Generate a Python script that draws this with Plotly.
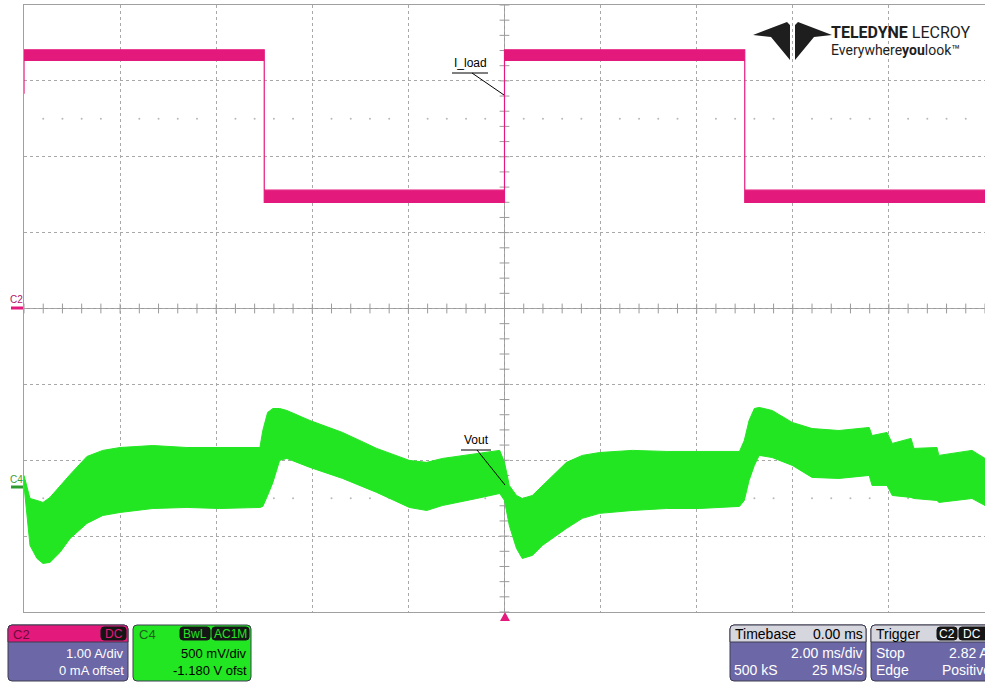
import numpy as np
import plotly.graph_objects as go

# ---------------- data (read from the screen capture) ----------------
# time in ms (2 ms/div, trigger at 0)
iload_t = [-10.0, -10.0, -5.0, -5.0, 0.0, 0.0, 5.0, 5.0, 10.0]
iload_upper = [2.85, 3.41, 3.41, 1.56, 1.56, 3.41, 3.41, 1.56, 1.56]   # A
iload_lower = [2.83, 3.27, 3.27, 1.40, 1.40, 3.27, 3.27, 1.40, 1.40]   # A

vout_t = [-10.0, -9.875, -9.73, -9.605, -9.46, -9.25, -9.04, -8.69, -8.36, -8.0,
          -7.32, -6.61, -5.93, -5.09, -5.03, -4.93, -4.82, -4.68, -4.53, -4.05,
          -3.37, -2.66, -1.98, -1.62, -1.29, -0.58, -0.10, 0.0, 0.10, 0.25,
          0.37, 0.58, 0.79, 1.29, 1.62, 1.98, 2.66, 3.37, 4.05, 4.89,
          4.99, 5.09, 5.20, 5.30, 5.57, 5.99, 6.40, 6.96, 7.59, 7.65,
          7.96, 8.07, 8.46, 8.52, 9.00, 9.04, 9.73, 10.0]
vout_upper = [0.080, -0.072, -0.085, -0.098, -0.065, 0.014, 0.086, 0.205, 0.245, 0.264,
              0.277, 0.264, 0.264, 0.264, 0.376, 0.495, 0.521, 0.521, 0.508, 0.442,
              0.363, 0.258, 0.179, 0.166, 0.192, 0.225, 0.245, 0.166, 0.014, -0.052,
              -0.072, -0.052, 0.014, 0.166, 0.212, 0.231, 0.245, 0.238, 0.238, 0.238,
              0.310, 0.442, 0.521, 0.528, 0.508, 0.429, 0.389, 0.376, 0.396, 0.343,
              0.363, 0.291, 0.324, 0.258, 0.264, 0.212, 0.245, 0.192]   # V (AC)
vout_lower = [0.014, -0.381, -0.467, -0.500, -0.493, -0.427, -0.335, -0.236, -0.184, -0.164,
              -0.138, -0.131, -0.138, -0.131, -0.124, -0.052, 0.034, 0.179, 0.192, 0.133,
              0.060, -0.032, -0.131, -0.151, -0.118, -0.072, -0.039, -0.085, -0.250, -0.401,
              -0.467, -0.447, -0.381, -0.269, -0.203, -0.170, -0.151, -0.138, -0.138, -0.124,
              -0.085, 0.047, 0.146, 0.212, 0.198, 0.146, 0.067, 0.060, 0.080, 0.014,
              0.014, -0.052, -0.065, -0.072, -0.085, -0.098, -0.072, -0.118]   # V (AC)

# channel settings
C2_VDIV = 1.0       # A/div, 0 offset
C4_VDIV = 0.5       # V/div
C4_OFFSET = -1.180  # V

PINK = "#e4197c"
GREEN = "#22e622"
PURPLE = "#6c67a6"
HEADER_GRAY = "#d6d6de"
FONT = "Arial, Liberation Sans, sans-serif"

# ---------------- geometry helpers (pixel -> paper) ----------------
W_FIG, H_FIG = 985, 685
L, R, T, B = 24, 985, 5, 612
PW, PH = R - L, B - T


def px(x):
    return (x - L) / PW


def py(y):
    return (B - y) / PH


def rrect_path(x0, y0, x1, y1, r=4, top=True, bottom=True):
    rx, ry = r / PW, r / PH
    X0, X1, Y0, Y1 = px(x0), px(x1), py(y0), py(y1)  # Y0 is top (larger)
    p = []
    if top:
        p.append(f"M{X0},{Y0 - ry}")
        p.append(f"Q{X0},{Y0} {X0 + rx},{Y0}")
        p.append(f"L{X1 - rx},{Y0}")
        p.append(f"Q{X1},{Y0} {X1},{Y0 - ry}")
    else:
        p.append(f"M{X0},{Y0}")
        p.append(f"L{X1},{Y0}")
    if bottom:
        p.append(f"L{X1},{Y1 + ry}")
        p.append(f"Q{X1},{Y1} {X1 - rx},{Y1}")
        p.append(f"L{X0 + rx},{Y1}")
        p.append(f"Q{X0},{Y1} {X0},{Y1 + ry}")
    else:
        p.append(f"L{X1},{Y1}")
        p.append(f"L{X0},{Y1}")
    p.append("Z")
    return " ".join(p)


shapes = []
annotations = []


def add_rrect(x0, y0, x1, y1, fill, line="#3c3c50", r=4, top=True, bottom=True, lw=1):
    shapes.append(dict(type="path", xref="paper", yref="paper",
                       path=rrect_path(x0, y0, x1, y1, r, top, bottom),
                       fillcolor=fill, line=dict(color=line, width=lw), layer="above"))


def add_text(text, x, y, xanchor="left", size=13, color="white", family=FONT, yanchor="middle"):
    annotations.append(dict(text=text, x=px(x), y=py(y), xref="paper", yref="paper",
                            xanchor=xanchor, yanchor=yanchor, showarrow=False,
                            font=dict(size=size, color=color, family=family)))


def add_line(x0, y0, x1, y1, color="black", width=1, dash=None):
    ln = dict(color=color, width=width)
    if dash:
        ln["dash"] = dash
    shapes.append(dict(type="line", xref="paper", yref="paper",
                       x0=px(x0), y0=py(y0), x1=px(x1), y1=py(y1), line=ln, layer="above"))


fig = go.Figure()

# ---------------- graticule decorations ----------------
minor_x = [v for v in np.arange(-10, 10.001, 0.4) if abs(v / 2 - round(v / 2)) > 1e-6]
for lvl in (2.5, -2.5):
    fig.add_trace(go.Scatter(x=minor_x, y=[lvl] * len(minor_x), mode="markers",
                             marker=dict(size=2, color="#b8b8b8"), hoverinfo="skip"))

tick_x = list(np.arange(-10, 10.001, 0.4))
fig.add_trace(go.Scatter(x=tick_x, y=[0] * len(tick_x), mode="markers",
                         marker=dict(symbol="line-ns", size=7, line=dict(width=1, color="#9a9a9a")),
                         hoverinfo="skip"))
tick_y = list(np.arange(-4, 4.001, 0.2))
fig.add_trace(go.Scatter(x=[0] * len(tick_y), y=tick_y, mode="markers",
                         marker=dict(symbol="line-ew", size=7, line=dict(width=1, color="#9a9a9a")),
                         hoverinfo="skip"))

# ---------------- traces ----------------
fig.add_trace(go.Scatter(
    x=iload_t + iload_t[::-1], y=iload_upper + iload_lower[::-1],
    fill="toself", fillcolor=PINK, mode="lines",
    line=dict(color=PINK, width=1.2), yaxis="y", hoverinfo="skip"))

fig.add_trace(go.Scatter(
    x=vout_t + vout_t[::-1], y=vout_upper + vout_lower[::-1],
    fill="toself", fillcolor=GREEN, mode="lines",
    line=dict(color=GREEN, width=1), yaxis="y2", hoverinfo="skip"))

# center cross lines
shapes.append(dict(type="line", xref="x", yref="y", x0=0, x1=0, y0=-4, y1=4,
                   line=dict(color="#9a9a9a", width=1), layer="below"))
shapes.append(dict(type="line", xref="x", yref="y", x0=-10, x1=10, y0=0, y1=0,
                   line=dict(color="#9a9a9a", width=1), layer="below"))

# ---------------- trace labels ----------------
add_text("I_load", 470, 72, "center", 12, "black", yanchor="bottom")
add_line(452, 73, 488, 73, "black", 1)
add_line(472, 73, 504, 95, "black", 1)

add_text("Vout", 476, 449, "center", 12, "black", yanchor="bottom")
add_line(461, 450, 491, 450, "black", 1)
add_line(477, 450, 505, 485, "black", 1)

# channel ground markers
add_text("C2", 8, 299, "left", 10, "#b0146a")
add_line(11, 308, 23, 308, PINK, 3)
add_text("C4", 8, 479, "left", 10, "#3aa03a")
add_line(11, 487, 23, 487, "#2f9a2f", 3)

# trigger position marker
shapes.append(dict(type="path", xref="paper", yref="paper",
                   path=f"M{px(505)},{py(612)} L{px(510)},{py(621)} L{px(500)},{py(621)} Z",
                   fillcolor=PINK, line=dict(color=PINK, width=0), layer="above"))

# ---------------- logo ----------------
lg = [(753, 35), (787, 22), (790, 25), (790, 60), (771, 37)]
rg = [(832, 35), (798, 22), (795, 25), (795, 60), (814, 37)]
for poly in (lg, rg):
    path = "M" + " L".join(f"{px(a)},{py(b)}" for a, b in poly) + " Z"
    shapes.append(dict(type="path", xref="paper", yref="paper", path=path,
                       fillcolor="#1e1e1e", line=dict(color="#1e1e1e", width=0), layer="above"))
LOGO_FONT = "Roboto, Arial, sans-serif"
add_text("<b>TELEDYNE</b> LECROY", 829, 32, "left", 16, "#1e1e1e", family=LOGO_FONT)
add_text("Everywhere<b>you</b>look™", 829, 50, "left", 14, "#1e1e1e", family=LOGO_FONT)

# ---------------- info boxes ----------------
# C2
add_rrect(8, 625, 128, 681, PURPLE)
add_rrect(8, 625, 128, 642, PINK, bottom=False)
add_text("C2", 11, 634, "left", 13, "#6a0c38")
add_rrect(101, 627, 126, 640, "#151515", line="#151515", r=3)
add_text("DC", 113.5, 634, "center", 12, PINK)
add_text("1.00 A/div", 126, 653, "right", 13, "white")
add_text("0 mA offset", 126, 670, "right", 13, "white")

# C4
add_rrect(133, 625, 251, 681, GREEN)
add_text("C4", 137, 634, "left", 13, "#1f5f1f")
add_rrect(180, 627, 210, 640, "#151515", line="#151515", r=3)
add_text("BwL", 195, 634, "center", 12, GREEN)
add_rrect(212, 627, 249, 640, "#151515", line="#151515", r=3)
add_text("AC1M", 230.5, 634, "center", 12, GREEN)
add_text("500 mV/div", 249, 653, "right", 13, "black")
add_text("-1.180 V ofst", 249, 670, "right", 13, "black")

# Timebase
add_rrect(730, 625, 866, 681, PURPLE)
add_rrect(730, 625, 866, 642, HEADER_GRAY, bottom=False)
add_text("Timebase", 733, 634, "left", 14, "black")
add_text("0.00 ms", 865, 634, "right", 14, "black")
add_text("2.00 ms/div", 865, 653, "right", 14, "white")
add_text("500 kS", 732, 670, "left", 14, "white")
add_text("25 MS/s", 865, 670, "right", 14, "white")

# Trigger
add_rrect(871, 625, 1000, 681, PURPLE)
add_rrect(871, 625, 1000, 642, HEADER_GRAY, bottom=False)
add_text("Trigger", 874, 634, "left", 14, "black")
add_rrect(937, 627, 957, 640, "#151515", line="#151515", r=3)
add_text("C2", 947, 634, "center", 12, "white")
add_rrect(959, 627, 992, 640, "#151515", line="#151515", r=3)
add_text("DC", 961, 634, "left", 12, "white")
add_text("Stop", 874, 653, "left", 14, "white")
add_text("2.82 A", 991, 653, "right", 14, "white")
add_text("Edge", 874, 670, "left", 14, "white")
add_text("Positive", 993, 670, "right", 14, "white")

# ---------------- layout ----------------
y2_lo = -4 * C4_VDIV - C4_OFFSET
y2_hi = 4 * C4_VDIV - C4_OFFSET

fig.update_layout(
    width=W_FIG, height=H_FIG,
    margin=dict(l=L, r=W_FIG - R, t=T, b=H_FIG - B, pad=0),
    paper_bgcolor="white", plot_bgcolor="white",
    showlegend=False,
    font=dict(family=FONT),
    xaxis=dict(range=[-10, 10], tick0=0, dtick=2, showgrid=True, gridcolor="#a8a8a8",
               griddash="dot", gridwidth=1, showticklabels=False, ticks="",
               zeroline=False, showline=True, mirror=True, linecolor="#a0a0a0",
               fixedrange=True),
    yaxis=dict(range=[-4 * C2_VDIV, 4 * C2_VDIV], tick0=0, dtick=C2_VDIV, showgrid=True,
               gridcolor="#a8a8a8", griddash="dot", gridwidth=1, showticklabels=False,
               ticks="", zeroline=False, showline=True, mirror=True, linecolor="#a0a0a0",
               fixedrange=True),
    yaxis2=dict(range=[y2_lo, y2_hi], overlaying="y", visible=False, fixedrange=True),
    shapes=shapes,
    annotations=annotations,
)

fig.write_html("out.html", config={"displayModeBar": False},
               post_script="document.body.style.margin='0';document.body.style.overflow='hidden';")
